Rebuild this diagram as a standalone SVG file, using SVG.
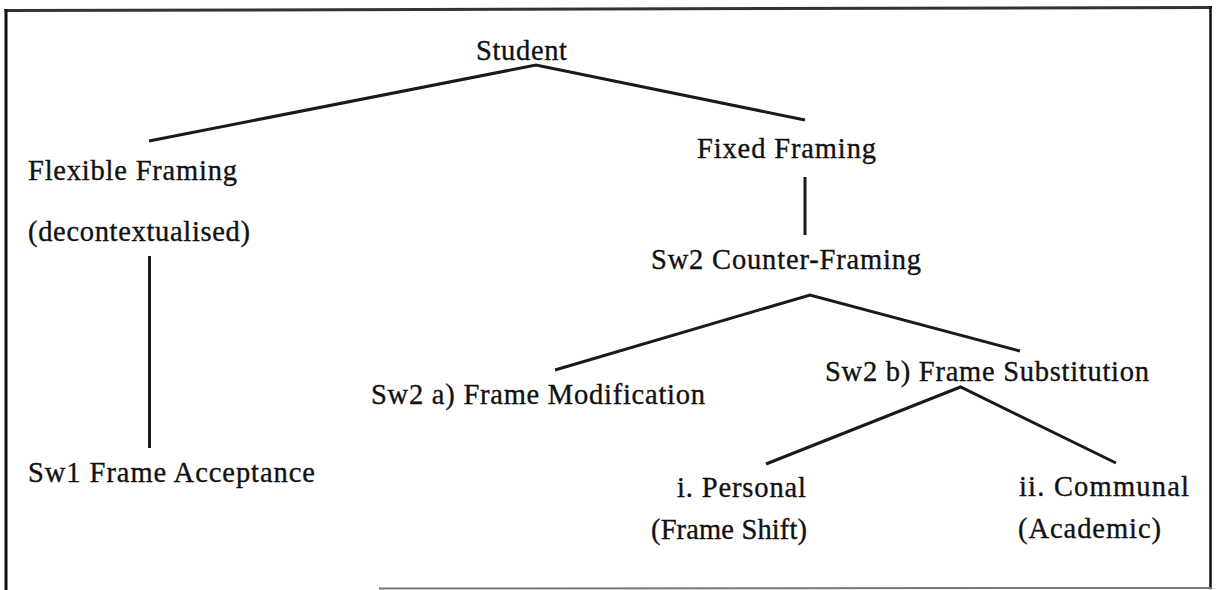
<svg xmlns="http://www.w3.org/2000/svg" width="1217" height="590" viewBox="0 0 1217 590">
  <style>
    .lbl { font-family: "Liberation Serif", "Times New Roman", serif; font-size: 28.5px; fill: #111; stroke: #111; stroke-width: 0.35; }
    .edge { fill: none; stroke: #1a1a1a; stroke-width: 3; stroke-linejoin: miter; stroke-linecap: butt; }
    .frame { fill: none; stroke-linecap: square; }
  </style>
  <rect width="1217" height="590" fill="#ffffff"/>

  <!-- outer frame -->
  <g id="frame" class="frame">
    <line x1="6" y1="10.5" x2="1210.5" y2="7.5" stroke="#333" stroke-width="3"/>
    <line x1="6" y1="10.5" x2="6" y2="590" stroke="#111" stroke-width="3"/>
    <line x1="1210.5" y1="7.5" x2="1210.5" y2="588" stroke="#111" stroke-width="2.5"/>
    <line x1="380" y1="588.5" x2="1210.5" y2="588" stroke="#777" stroke-width="2"/>
  </g>

  <!-- tree branches -->
  <g id="connectors">
    <polyline class="edge" points="149,141 536,65 805,120"/>
    <line class="edge" x1="149.5" y1="256" x2="149.5" y2="448"/>
    <line class="edge" x1="805" y1="177" x2="805" y2="235"/>
    <polyline class="edge" points="555,370 810,295 1020,351"/>
    <polyline class="edge" points="766,464 960.5,387 1116,463"/>
  </g>

  <g id="student"><text class="lbl" x="476" y="60" textLength="91" lengthAdjust="spacing">Student</text></g>
  <g id="flexible-framing">
    <text class="lbl" x="28" y="180" textLength="209" lengthAdjust="spacing">Flexible Framing</text>
    <text class="lbl" x="28" y="241" textLength="222" lengthAdjust="spacing">(decontextualised)</text>
  </g>
  <g id="frame-acceptance"><text class="lbl" x="28" y="482" textLength="287" lengthAdjust="spacing">Sw1 Frame Acceptance</text></g>
  <g id="fixed-framing"><text class="lbl" x="697" y="158" textLength="179" lengthAdjust="spacing">Fixed Framing</text></g>
  <g id="counter-framing"><text class="lbl" x="651" y="269" textLength="270" lengthAdjust="spacing">Sw2 Counter-Framing</text></g>
  <g id="frame-modification"><text class="lbl" x="371" y="404" textLength="334" lengthAdjust="spacing">Sw2 a) Frame Modification</text></g>
  <g id="frame-substitution"><text class="lbl" x="825" y="381" textLength="324" lengthAdjust="spacing">Sw2 b) Frame Substitution</text></g>
  <g id="personal">
    <text class="lbl" x="677" y="497" textLength="129" lengthAdjust="spacing">i. Personal</text>
    <text class="lbl" x="651" y="539" textLength="156" lengthAdjust="spacing">(Frame Shift)</text>
  </g>
  <g id="communal">
    <text class="lbl" x="1019" y="496" textLength="170" lengthAdjust="spacing">ii. Communal</text>
    <text class="lbl" x="1018" y="538" textLength="143" lengthAdjust="spacing">(Academic)</text>
  </g>
</svg>
